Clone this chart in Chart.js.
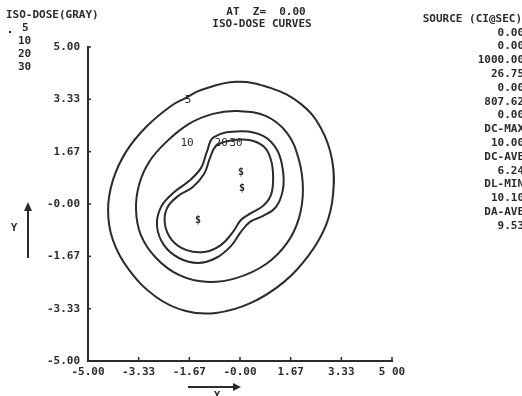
<!DOCTYPE html>
<html>
<head>
<meta charset="utf-8">
<script src="https://cdn.jsdelivr.net/npm/chart.js@4"></script>
<style>
  body { margin: 0; background: #fff; }
  canvas { display: block; }
</style>
</head>
<body>
<canvas id="myChart" width="522" height="396"></canvas>
<script>
// dose contour levels (gray)
const levels = ['5', '10', '20', '30']

// closed curves: last point repeats the first
const curve5 = [
  [-1.78, 3.38], [-1.28, 3.63], [-0.13, 3.89], [1.02, 3.69], [2.01, 3.18],
  [2.66, 2.42], [3.03, 1.40], [3.06, 0.29], [2.83, -0.67], [2.27, -1.62],
  [1.45, -2.48], [0.36, -3.15], [-0.79, -3.47], [-1.78, -3.41], [-2.76, -2.96],
  [-3.65, -2.10], [-4.18, -1.15], [-4.34, -0.19], [-4.18, 0.76], [-3.75, 1.66],
  [-3.09, 2.45], [-2.27, 3.12], [-1.78, 3.38]
]
const curve10 = [
  [-1.68, 2.55], [-0.89, 2.87], [-0.07, 2.96], [0.86, 2.80], [1.55, 2.26],
  [1.94, 1.40], [2.07, 0.45], [1.94, -0.45], [1.55, -1.24], [0.86, -1.91],
  [-0.13, -2.36], [-1.12, -2.48], [-2.01, -2.26], [-2.76, -1.72], [-3.26, -0.99],
  [-3.42, -0.19], [-3.32, 0.61], [-2.99, 1.34], [-2.43, 1.97], [-1.68, 2.55]
]
const curve20 = [
  [-0.86, 2.13], [0.03, 2.32], [0.76, 2.17], [1.22, 1.72], [1.41, 1.08],
  [1.41, 0.45], [1.18, -0.10], [0.76, -0.38], [0.33, -0.57], [0.03, -0.89],
  [-0.30, -1.34], [-0.79, -1.72], [-1.38, -1.88], [-2.01, -1.72], [-2.50, -1.31],
  [-2.73, -0.70], [-2.60, -0.10], [-2.20, 0.35], [-1.68, 0.73], [-1.28, 1.15],
  [-1.09, 1.66], [-0.86, 2.13]
]
const curve30 = [
  [-0.36, 2.01], [0.30, 2.04], [0.79, 1.82], [1.02, 1.40], [1.09, 0.83],
  [1.02, 0.29], [0.76, -0.06], [0.36, -0.29], [0.03, -0.51], [-0.23, -0.89],
  [-0.63, -1.31], [-1.18, -1.53], [-1.78, -1.46], [-2.24, -1.15], [-2.47, -0.64],
  [-2.40, -0.13], [-2.04, 0.25], [-1.55, 0.54], [-1.18, 0.96], [-0.99, 1.46],
  [-0.79, 1.85], [-0.36, 2.01]
]

// source positions and contour label spots
const sources = [[0.03, 1.02], [0.07, 0.51], [-1.38, -0.51]]
const curveLabels = [['5', -1.71, 3.31], ['10', -1.74, 1.94], ['20', -0.62, 1.94], ['30', -0.13, 1.94]]

const tickValues = [-5, -10 / 3, -5 / 3, 0, 5 / 3, 10 / 3, 5]
const xTickLabels = ['-5.00', '-3.33', '-1.67', '-0.00', '1.67', '3.33', '5 00']
const yTickLabels = ['-5.00', '-3.33', '-1.67', '-0.00', '1.67', '3.33', '5.00']

const sourceText = ['SOURCE (CI@SEC)', '0.00', '0.00', '1000.00', '26.75', '0.00', '807.62', '0.00',
  'DC-MAX', '10.00', 'DC-AVE', '6.24', 'DL-MIN', '10.10', 'DA-AVE', '9.53']

const ink = '#2b2b2b'
const mono = '"DejaVu Sans Mono", "Liberation Mono", monospace'

const ctx = document.getElementById('myChart')

const extras = {
  id: 'extras',
  afterDraw(chart) {
    const c = chart.ctx
    const xs = chart.scales.x, ys = chart.scales.y
    const area = chart.chartArea
    c.save()
    c.strokeStyle = ink
    c.lineWidth = 1.5
    // inward tick marks
    tickValues.forEach(v => {
      const px = xs.getPixelForValue(v)
      c.beginPath(); c.moveTo(px, area.bottom); c.lineTo(px, area.bottom - 4); c.stroke()
      const py = ys.getPixelForValue(v)
      c.beginPath(); c.moveTo(area.left, py); c.lineTo(area.left + 3, py); c.stroke()
    })

    c.fillStyle = ink
    c.textBaseline = 'middle'
    c.font = 'bold 11px ' + mono

    // titles
    c.textAlign = 'center'
    c.fillText('AT  Z=  0.00', 266, 12)
    c.fillText('ISO-DOSE CURVES', 262, 24)

    // left legend
    c.textAlign = 'left'
    c.fillText('ISO-DOSE(GRAY)', 6, 15)
    levels.forEach((l, i) => {
      c.fillText(l, l.length > 1 ? 18 : 22, 28 + i * 13)
    })
    c.fillRect(9, 31, 2, 2)

    // right column
    c.textAlign = 'right'
    sourceText.forEach((t, i) => {
      c.fillText(t, i === 0 ? 522 : 524, 19 + i * 13.8)
    })

    // contour labels and sources
    c.textAlign = 'center'
    c.font = '11px ' + mono
    curveLabels.forEach(l => {
      c.fillText(l[0], xs.getPixelForValue(l[1]), ys.getPixelForValue(l[2]))
    })
    c.font = 'bold 10px ' + mono
    sources.forEach(s => {
      c.fillText('$', xs.getPixelForValue(s[0]), ys.getPixelForValue(s[1]))
    })

    // axis arrows
    c.lineWidth = 2
    c.beginPath(); c.moveTo(188, 387); c.lineTo(238, 387); c.stroke()
    c.beginPath(); c.moveTo(241, 387); c.lineTo(233, 383); c.lineTo(233, 391); c.closePath(); c.fill()
    c.beginPath(); c.moveTo(28, 258); c.lineTo(28, 206); c.stroke()
    c.beginPath(); c.moveTo(28, 202); c.lineTo(24, 211); c.lineTo(32, 211); c.closePath(); c.fill()
    c.font = 'bold 11px ' + mono
    c.fillText('X', 217, 396)
    c.fillText('Y', 14, 228)
    c.restore()
  }
}

// wrap one point on each side so the join is smooth, and hide the two extra segments
const lineSet = arr => {
  const pts = [arr[arr.length - 2], ...arr, arr[1]].map(p => ({ x: p[0], y: p[1] }))
  const last = pts.length - 1
  return {
    data: pts,
    showLine: true,
    borderColor: ink,
    borderWidth: 2,
    pointRadius: 0,
    tension: 0.4,
    fill: false,
    segment: {
      borderColor: s => (s.p0DataIndex === 0 || s.p1DataIndex === last) ? 'rgba(0,0,0,0)' : undefined
    }
  }
}

const config = {
  type: 'scatter',
  data: {
    datasets: [lineSet(curve5), lineSet(curve10), lineSet(curve20), lineSet(curve30)]
  },
  options: {
    responsive: false,
    animation: false,
    layout: { padding: { left: 0, right: 130, top: 47, bottom: 0 } },
    plugins: { legend: { display: false }, tooltip: { enabled: false } },
    scales: {
      x: {
        type: 'linear', min: -5, max: 5,
        afterBuildTicks: s => { s.ticks = tickValues.map(v => ({ value: v })) },
        afterFit: s => { s.height = 35 },
        grid: { drawOnChartArea: false, drawTicks: false },
        border: { display: true, color: ink, width: 2 },
        ticks: {
          padding: 5, color: ink, maxRotation: 0, autoSkip: false,
          font: { family: mono, size: 11, weight: 'bold' },
          callback: (v, i) => xTickLabels[i]
        }
      },
      y: {
        type: 'linear', min: -5, max: 5,
        afterBuildTicks: s => { s.ticks = tickValues.map(v => ({ value: v })) },
        afterFit: s => { s.width = 88 },
        grid: { drawOnChartArea: false, drawTicks: false },
        border: { display: true, color: ink, width: 2 },
        ticks: {
          padding: 8, color: ink, autoSkip: false,
          font: { family: mono, size: 11, weight: 'bold' },
          callback: (v, i) => yTickLabels[i]
        }
      }
    }
  },
  plugins: [extras]
}

const myChart = new Chart(ctx, config)
</script>
</body>
</html>
